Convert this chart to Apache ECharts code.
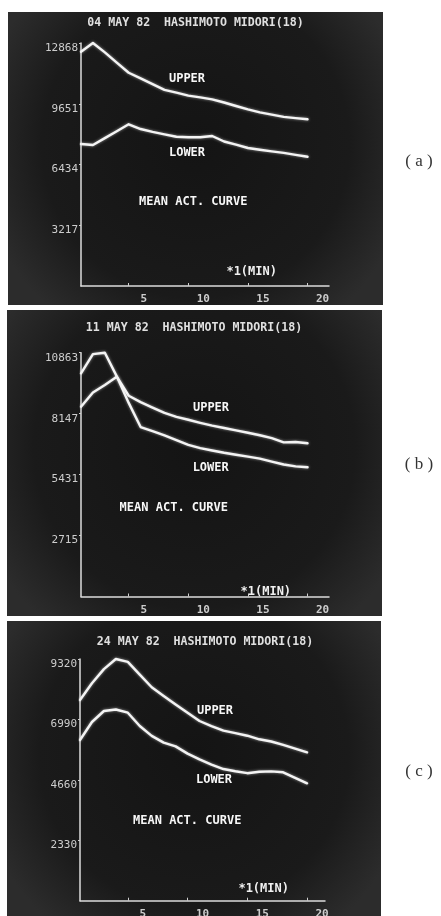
<!DOCTYPE html>
<html><head><meta charset="utf-8">
<script src="https://cdn.jsdelivr.net/npm/echarts@6/dist/echarts.min.js"></script>
<style>html,body{margin:0;padding:0;background:#fff}#c{width:441px;height:916px}</style>
</head><body><div id="c"></div>
<script>
// ---- data ----
const minutes = [1,2,3,4,5,6,7,8,9,10,11,12,13,14,15,16,17,18,19,20];

const upperA = [12406,12868,12369,11829,11294,10993,10691,10389,10240,10082,9986,9880,9716,9531,9351,9192,9076,8954,8890,8827];
const lowerA = [7519,7466,7831,8197,8562,8313,8160,8033,7906,7874,7879,7943,7651,7487,7307,7217,7132,7048,6947,6846];

const upperB = [8457,9090,9425,9794,8945,8662,8417,8181,8007,7874,7740,7615,7508,7401,7294,7183,7054,6867,6885,6826];
const lowerB = [9946,10800,10863,9808,8627,7549,7370,7178,6969,6760,6613,6506,6403,6314,6234,6145,6011,5882,5797,5757];

const upperC = [7739,8383,8930,9320,9208,8718,8229,7893,7562,7245,6929,6733,6559,6463,6362,6224,6139,6008,5865,5722];
const lowerC = [6197,6891,7315,7373,7249,6736,6355,6096,5950,5672,5452,5248,5078,4990,4917,4970,4986,4951,4739,4527];

const yTicksA = [3217, 6434, 9651, 12868];
const yTicksB = [2715, 5431, 8147, 10863];
const yTicksC = [2330, 4660, 6990, 9320];
const xTicks = [5, 10, 15, 20];

const titles = ['04 MAY 82  HASHIMOTO MIDORI(18)', '11 MAY 82  HASHIMOTO MIDORI(18)', '24 MAY 82  HASHIMOTO MIDORI(18)'];
const upperText = 'UPPER';
const lowerText = 'LOWER';
const meanText = 'MEAN ACT. CURVE';
const unitText = '*1(MIN)';
const panelTags = ['( a )', '( b )', '( c )'];

// ---- layout ----
const layout = [
  {panel:[8,12,375,293], grid:{left:81, top:43, width:248, height:243}, xMax:21.8,
   title:[195.5,22.7], upper:[187,79], lower:[187,153], mean:[193.3,202.3], unit:[251.7,271.7], tag:[419,162]},
  {panel:[7,310,375,306], grid:{left:81, top:352.7, width:248, height:243.8}, xMax:21.8,
   title:[194,328.3], upper:[211,408.3], lower:[210.7,467.7], mean:[173.8,508.3], unit:[265.8,591.7], tag:[419,465]},
  {panel:[7,621,374,295], grid:{left:80, top:659, width:245, height:241.7}, xMax:21.5,
   title:[205,641.7], upper:[215,711], lower:[214,780], mean:[187.2,820.7], unit:[263.7,889.3], tag:[419,772]}
];

const panels = [
  {upper: upperA, lower: lowerA, yTicks: yTicksA},
  {upper: upperB, lower: lowerB, yTicks: yTicksB},
  {upper: upperC, lower: lowerC, yTicks: yTicksC}
];

const mono = '"DejaVu Sans Mono", "Liberation Mono", monospace';
const grids = [], xAxes = [], yAxes = [], series = [], graphics = [];

panels.forEach((p, i) => {
  const L = layout[i];
  grids.push(Object.assign({outerBoundsMode: 'none', containLabel: false}, L.grid));
  xAxes.push({
    type: 'value', gridIndex: i, min: 1, max: L.xMax,
    axisLine: {show: true, lineStyle: {color: '#dcdcdc', width: 1.5}},
    axisTick: {show: true, inside: true, length: 3, customValues: xTicks, lineStyle: {color: '#cfcfcf', width: 1}},
    axisLabel: {show: true, customValues: xTicks, color: '#cdcdcd', fontFamily: mono, fontSize: 11, fontWeight: 'bold',
      margin: 8, lineHeight: 11, padding: [0, 0, 0, 30], formatter: v => String(v)},
    splitLine: {show: false}
  });
  yAxes.push({
    type: 'value', gridIndex: i, min: 0, max: p.yTicks[p.yTicks.length - 1],
    axisLine: {show: true, lineStyle: {color: '#dcdcdc', width: 1.5}},
    axisTick: {show: true, inside: false, length: 2, customValues: p.yTicks, lineStyle: {color: '#cfcfcf', width: 1}},
    axisLabel: {show: true, customValues: p.yTicks, color: '#cdcdcd', fontFamily: mono, fontSize: 11,
      margin: 3, verticalAlign: 'top', lineHeight: 10, formatter: v => String(v)},
    splitLine: {show: false}
  });
  [p.upper, p.lower].forEach(vals => {
    series.push({
      type: 'line', xAxisIndex: i, yAxisIndex: i, clip: false,
      data: minutes.map((m, k) => [m, vals[k]]),
      showSymbol: false, symbol: 'none', smooth: false, silent: true,
      lineStyle: {color: '#f4f4f4', width: 2.4, cap: 'round', join: 'round',
        shadowBlur: 3, shadowColor: 'rgba(255,255,255,0.55)'}
    });
  });
  const r = L.panel;
  graphics.push({type: 'rect', z: -100, shape: {x: r[0], y: r[1], width: r[2], height: r[3]},
    style: {fill: {type: 'radial', x: 0.5, y: 0.45, r: 0.75,
      colorStops: [{offset: 0, color: '#141414'}, {offset: 0.7, color: '#1a1a1a'}, {offset: 1, color: '#2c2c2c'}]}}});
  const txt = (s, pos, size, color, weight, family) => graphics.push({type: 'text', z: 100,
    style: {text: s, x: pos[0], y: pos[1], fill: color, font: (weight || 'bold') + ' ' + size + 'px ' + (family || mono),
      align: 'center', verticalAlign: 'middle'}});
  txt(titles[i], L.title, 11.6, '#e0e0e0');
  txt(upperText, L.upper, 12, '#f7f7f7');
  txt(lowerText, L.lower, 12, '#f7f7f7');
  txt(meanText, L.mean, 12, '#f7f7f7');
  txt(unitText, L.unit, 12, '#f0f0f0');
  txt(panelTags[i], L.tag, 17, '#333333', 'normal', '"Liberation Serif", "DejaVu Serif", serif');
});

const chart = echarts.init(document.getElementById('c'), null, {renderer: 'canvas'});
chart.setOption({
  backgroundColor: '#ffffff',
  animation: false,
  grid: grids,
  xAxis: xAxes,
  yAxis: yAxes,
  series: series,
  graphic: {elements: graphics}
});
</script>
</body></html>
